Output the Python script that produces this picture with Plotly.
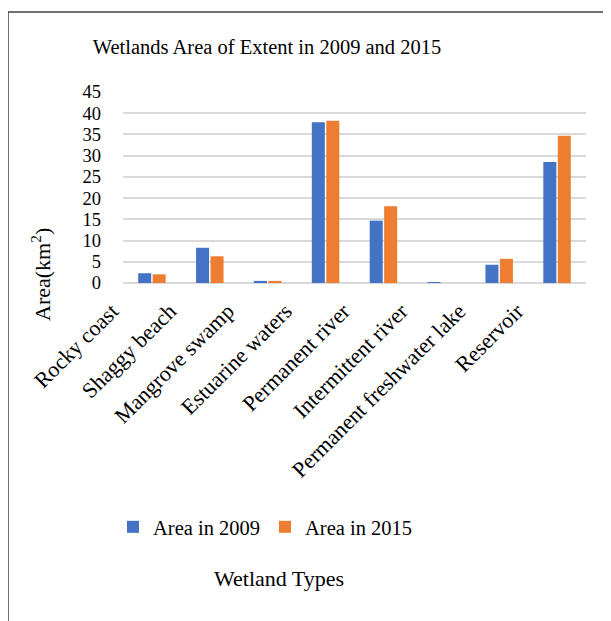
import plotly.graph_objects as go

categories = ["Rocky coast", "Shaggy beach", "Mangrove swamp", "Estuarine waters",
              "Permanent river", "Intermittent river", "Permanent freshwater lake", "Reservoir"]
area_2009 = [2.3, 8.3, 0.5, 37.9, 14.7, 0.2, 4.3, 28.5]
area_2015 = [2.05, 6.3, 0.5, 38.2, 18.1, 0.0, 5.7, 34.7]
y_ticks = [0, 5, 10, 15, 20, 25, 30, 35, 40, 45]

OFF = 8  # default page body margin
W, H = 611 - OFF, 621 - OFF
L, R, T, B = 123 - OFF, 25, 92 - OFF, 338
PW, PH = W - L - R, H - T - B


def px(x):  # reference window pixel -> paper x
    return (x - OFF - L) / PW


def py(y):  # reference window pixel -> paper y
    return (H - B - (y - OFF)) / PH


FONT = "Liberation Serif, Times New Roman, serif"

fig = go.Figure()
fig.add_trace(go.Bar(x=categories, y=area_2009, name="Area in 2009",
                     marker=dict(color="#4472C4", line=dict(width=0))))
fig.add_trace(go.Bar(x=categories, y=area_2015, name="Area in 2015",
                     marker=dict(color="#ED7D31", line=dict(width=0))))

fig.update_layout(
    width=W, height=H,
    margin=dict(l=L, r=R, t=T, b=B, autoexpand=False),
    paper_bgcolor="white", plot_bgcolor="white",
    font=dict(family=FONT, color="black", size=22),
    barmode="group", bargap=0.5, bargroupgap=0.1,
    title=dict(text="Wetlands Area of Extent in 2009 and 2015",
               x=(267 - OFF) / W, xanchor="center", xref="container",
               y=1 - (47 - OFF) / H, yanchor="middle", yref="container",
               font=dict(family=FONT, size=20.5, color="black")),
    xaxis=dict(type="category", tickangle=-45, showgrid=False, showline=False,
               ticks="", tickfont=dict(family=FONT, size=22),
               ticklabelshift=-40, ticklabelstandoff=10),
    yaxis=dict(range=[0, 45], tickvals=y_ticks, showgrid=True, gridcolor="#d9d9d9",
               gridwidth=1.8, zeroline=True, zerolinecolor="#d9d9d9", zerolinewidth=1.8,
               showline=False, ticks="", tickfont=dict(family=FONT, size=18.5),
               ticklabelstandoff=21),
    legend=dict(orientation="h", x=px(113), xanchor="left", y=py(527), yanchor="middle",
                font=dict(family=FONT, size=20.5), entrywidth=107, entrywidthmode="pixels",
                bgcolor="rgba(0,0,0,0)", itemclick=False),
    showlegend=True,
)

fig.add_annotation(text="Area(km<sup>2</sup>)", textangle=-90, x=px(41), y=py(275),
                   xref="paper", yref="paper", xanchor="center", yanchor="middle",
                   showarrow=False, font=dict(family=FONT, size=22))
fig.add_annotation(text="Wetland Types", x=px(279), y=py(578), xref="paper", yref="paper",
                   xanchor="center", yanchor="middle",
                   showarrow=False, font=dict(family=FONT, size=22))

fig.add_shape(type="line", xref="paper", yref="paper", x0=px(8), x1=px(613), y0=py(12), y1=py(12),
              line=dict(color="#404040", width=1.5))
fig.add_shape(type="line", xref="paper", yref="paper", x0=px(8), x1=px(8), y0=py(12), y1=py(623),
              line=dict(color="#404040", width=1.5))

fig.write_html("out.html")
